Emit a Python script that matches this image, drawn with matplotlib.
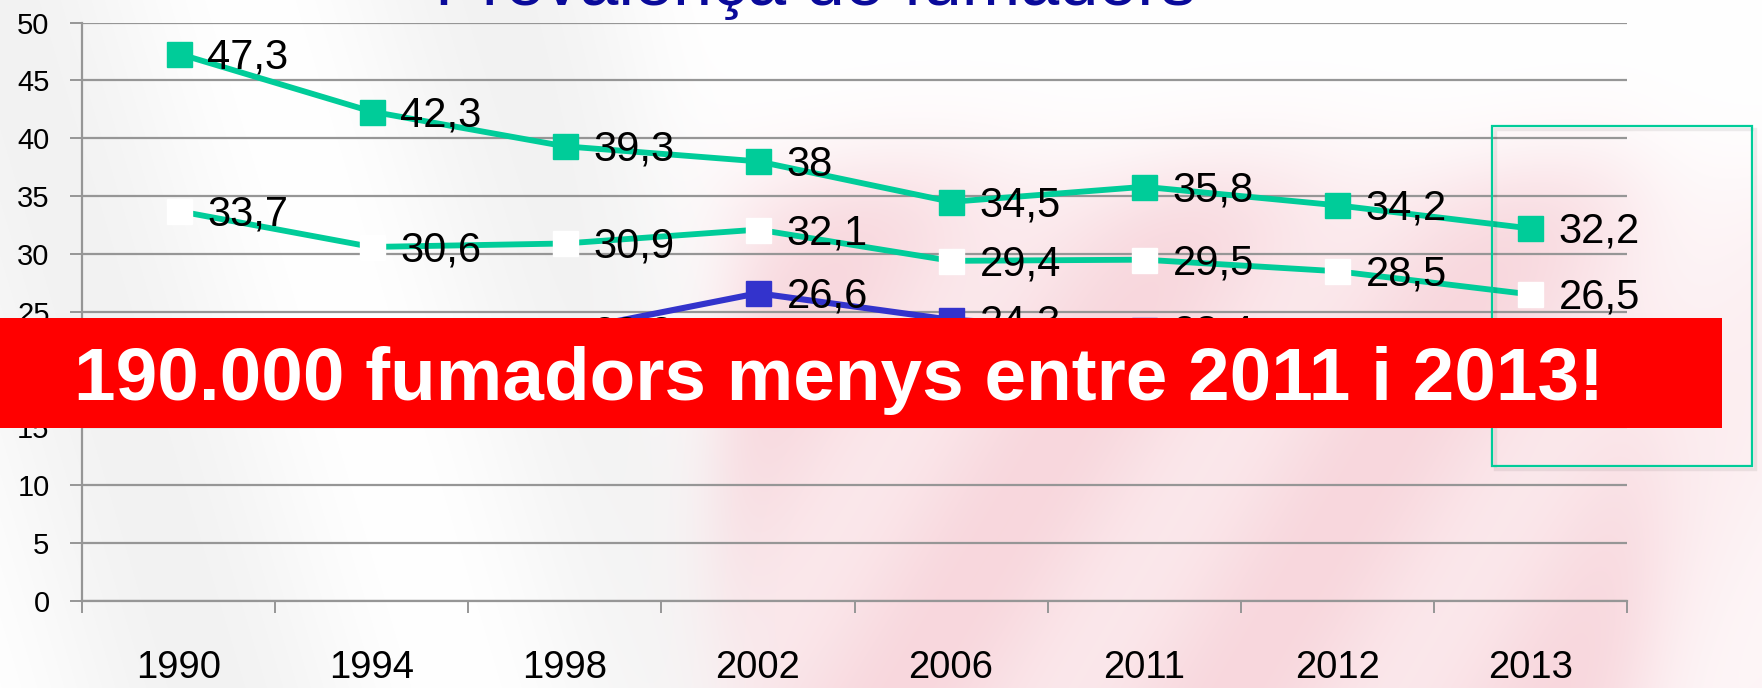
import numpy as np
import matplotlib
matplotlib.use("Agg")
import matplotlib.pyplot as plt
from matplotlib.patches import Rectangle

plt.rcParams['font.family'] = ['Liberation Sans', 'DejaVu Sans']

# ---- data ----
years = ["1990", "1994", "1998", "2002", "2006", "2011", "2012", "2013"]
homes = [47.3, 42.3, 39.3, 38.0, 34.5, 35.8, 34.2, 32.2]
total = [33.7, 30.6, 30.9, 32.1, 29.4, 29.5, 28.5, 26.5]
dones = [20.8, 19.8, 23.3, 26.6, 24.3, 23.4, 22.4, 20.3]   # mostly hidden by the banner
yticks = list(range(0, 55, 5))
title = "Prevalença de fumadors"
banner = "190.000 fumadors menys entre 2011 i 2013!"

GREEN = "#00CC99"
BLUE = "#3333CC"
GRID = "#969696"

W, H = 1762, 688
fig = plt.figure(figsize=(W / 100, H / 100), dpi=100)

# ---- faded background picture ----
Yg, Xg = np.mgrid[0:H, 0:W].astype(float)
sig = lambda z: 1.0 / (1.0 + np.exp(-z))
mod = 0.8 + 0.2 * np.cos(2 * np.pi * (Xg + 0.6 * Yg) / 330.0)
pw = sig((Xg - 720) / 22) * sig((Yg - 170) / 30) * mod * (0.4 + 0.6 * sig((1650 - Xg) / 25))
pw = np.clip(pw, 0, 1) * 0.85
gw = (1 - sig((Xg - 700) / 40)) * (0.5 + 0.5 * np.cos(2 * np.pi * (Xg - 0.3 * Yg) / 500.0)) * 0.05
white = np.array([1.0, 1.0, 1.0])
pink = np.array([247, 208, 215]) / 255.0
bg = white[None, None, :] * (1 - pw[..., None]) + pink[None, None, :] * pw[..., None]
bg = bg * (1 - gw[..., None])
axbg = fig.add_axes([0, 0, 1, 1], zorder=-10)
axbg.imshow(bg, aspect="auto", extent=[0, 1, 0, 1], interpolation="bilinear")
axbg.axis("off")

# ---- main axes ----
ax = fig.add_axes([82 / W, 1 - 601 / H, 1545 / W, (601 - 22.5) / H])
ax.set_facecolor("none")
x = np.arange(len(years))

ax.plot(x, homes, color=GREEN, lw=4.2, marker="s", ms=18, mfc=GREEN, mec=GREEN, zorder=3)
ax.plot(x, total, color=GREEN, lw=4.2, marker="s", ms=18, mfc="white", mec="white", zorder=3)
ax.plot(x, dones, color=BLUE, lw=4.4, marker="s", ms=18, mfc=BLUE, mec=BLUE, zorder=3)

for series in (homes, total, dones):
    for xi, v in zip(x, series):
        lab = ("%g" % v).replace(".", ",")
        ax.annotate(lab, (xi, v), xytext=(20.5, -2.5), textcoords="offset points",
                    ha="left", va="center", fontsize=30, color="black", zorder=4)

ax.set_xlim(-0.5, len(years) - 0.5)
ax.set_ylim(0, 50)
ax.set_yticks(yticks)
ax.set_yticklabels([str(t) for t in yticks], fontsize=21)
ax.set_xticks(x)
ax.set_xticklabels(years, fontsize=27.5)
ax.set_xticks(np.arange(-0.5, len(years), 1.0), minor=True)
ax.tick_params(axis="x", which="major", length=0, pad=35)
ax.tick_params(axis="x", which="minor", length=8.5, width=1.4, color=GRID, direction="out")
ax.tick_params(axis="y", length=8.4, width=1.4, color=GRID, pad=15, direction="out")
ax.grid(axis="y", color=GRID, lw=1.6, zorder=0)
ax.set_axisbelow(True)
for s in ("top", "right"):
    ax.spines[s].set_visible(False)
for s in ("left", "bottom"):
    ax.spines[s].set_color(GRID)
    ax.spines[s].set_linewidth(1.6)

# ---- title (cut at top) ----
fig.text(815 / W, 1 - 4.5 / H, title, ha="center", va="baseline",
         fontsize=50.5, color="#0A0A9A", zorder=3)

# ---- green highlight box around 2013 ----
bx0, bx1, by0, by1 = 1492, 1752, 126, 466
fig.patches.append(Rectangle(((bx0 + 3) / W, 1 - (by1 + 3) / H), (bx1 - bx0) / W, (by1 - by0) / H,
                             transform=fig.transFigure, fill=False, ec="#000000", lw=2.5, alpha=0.07, zorder=4))
fig.patches.append(Rectangle((bx0 / W, 1 - by1 / H), (bx1 - bx0) / W, (by1 - by0) / H,
                             transform=fig.transFigure, fill=False, ec=GREEN, lw=1.6, zorder=4))

# ---- red banner ----
fig.patches.append(Rectangle((0, 1 - 427.5 / H), 1722 / W, (427.5 - 318) / H,
                             transform=fig.transFigure, fc="#FF0000", ec="none", zorder=5))
fig.text(838.5 / W, 1 - 400 / H, banner, ha="center", va="baseline", fontsize=53.8,
         fontweight="bold", color="white", zorder=6)

fig.savefig("out.png", dpi=100)
